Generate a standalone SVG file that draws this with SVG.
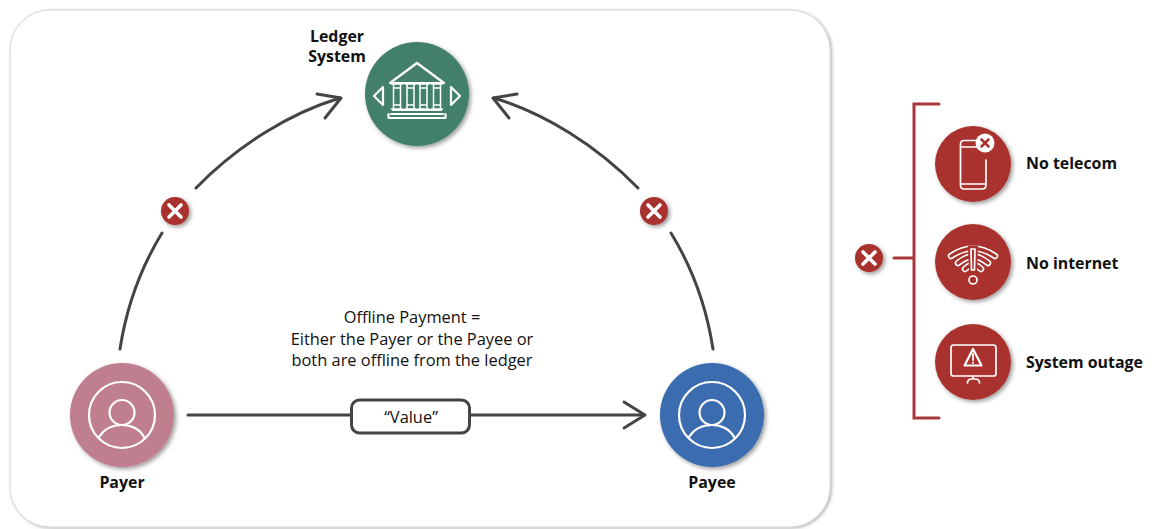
<svg xmlns="http://www.w3.org/2000/svg" width="1160" height="529" viewBox="0 0 1160 529">
<style>
text{font-family:"Open Sans","Noto Sans","Liberation Sans",sans-serif;fill:#111;font-size:16.4px;text-anchor:middle}
.b{font-weight:700;font-size:15.9px}
.l{text-anchor:start}
.c{fill:none;stroke:#444;stroke-width:3;stroke-linecap:round;stroke-linejoin:round}
.w{fill:none;stroke:#fff;stroke-width:2.2;stroke-linecap:round;stroke-linejoin:round}
.t{fill:none;stroke:#fff;stroke-width:1.7;stroke-linecap:round;stroke-linejoin:round}
.x{fill:none;stroke:#fff;stroke-width:3.6;stroke-linecap:round}
.r{fill:#a9322f}
.br{fill:none;stroke:#a9383a;stroke-width:3;stroke-linecap:round;stroke-linejoin:miter}
.ba{fill:none;stroke:#fff;stroke-width:6.500;stroke-linecap:round}
.bi{fill:none;stroke:#a9322f;stroke-width:3.300;stroke-linecap:round}
</style>
<defs>
<filter id="s" x="-20%" y="-20%" width="145%" height="145%"><feDropShadow dx="2" dy="2" stdDeviation="2" flood-color="#000" flood-opacity=".4"/></filter>
<filter id="cs" x="-3%" y="-3%" width="106%" height="106%"><feDropShadow dx="1.5" dy="1" stdDeviation="1.5" flood-color="#000" flood-opacity=".3"/></filter>
<g id="xb"><circle r="14" class="r" filter="url(#s)"/><path class="x" d="M-6-6 6 6M6-6-6 6"/></g>
<g id="person"><circle r="33" class="w"/><circle cy="-2.500" r="12.500" class="w"/><path class="w" d="M-23 22C-18 14-9 10 0 10S18 14 22 22"/></g>
<g id="col"><path d="M-3.500-22V3M3.500-22V3M-5.500-22H5.500M-5.500 3H5.500M-3.500-18H3.500M-3.500-1H3.500" fill="none" stroke="#fff" stroke-width="1.500" stroke-linecap="round"/></g>
</defs>
<rect width="1160" height="529" fill="#fff"/>
<rect id="card" x="10" y="10" width="820" height="517" rx="40" fill="#fff" stroke="#d4d4d4" stroke-width="1" filter="url(#cs)"/>

<g id="connectors">
<path class="c" d="M120 349C126 310 140 269 162 233"/>
<path class="c" d="M196 188C238 145 290 113 340 98"/>
<path class="c" d="M317 94 341 98 325 118"/>
<path class="c" d="M713 349C707 310 693 269 671 233"/>
<path class="c" d="M638 188C596 145 544 113 494 98"/>
<path class="c" d="M517 94 493 98 509 118"/>
<path class="c" d="M188 415H352M470 415H644"/>
<path class="c" d="M624 402 645 415 624 428"/>
</g>

<g id="x-left"><use href="#xb" x="175" y="211"/></g>
<g id="x-right"><use href="#xb" x="654" y="211"/></g>

<g id="ledger">
<circle cx="417" cy="94" r="52" fill="#42806b" filter="url(#s)"/>
<path class="w" d="M390 83 417 63 444 83ZM393 110H441M391 114H443M388.500 118H445.500V114M388.500 118V114M374 96 383 87V105ZM460 96 451 87V105Z"/>
<use href="#col" x="397" y="106"/>
<use href="#col" x="410.500" y="106"/>
<use href="#col" x="423.500" y="106"/>
<use href="#col" x="437" y="106"/>
<text class="b" x="337" y="42">Ledger</text>
<text class="b" x="337" y="62">System</text>
</g>

<g id="payer">
<circle cx="122" cy="415" r="52" fill="#c07f8f" filter="url(#s)"/>
<use href="#person" x="122" y="415"/>
<text class="b" x="122" y="488">Payer</text>
</g>

<g id="payee">
<circle cx="712" cy="415" r="52" fill="#3a6cb0" filter="url(#s)"/>
<use href="#person" x="712" y="415"/>
<text class="b" x="712" y="488">Payee</text>
</g>

<g id="value">
<rect x="351.500" y="400" width="118" height="33" rx="8" fill="#fff" stroke="#444" stroke-width="3"/>
<text x="411" y="423">“Value”</text>
</g>

<g id="caption">
<text x="412" y="323">Offline Payment =</text>
<text x="412" y="345">Either the Payer or the Payee or</text>
<text x="412" y="366">both are offline from the ledger</text>
</g>

<g id="bracket">
<path class="br" d="M939 104H914V418H939M894 258H914"/>
</g>
<g id="x-main"><use href="#xb" x="869" y="258"/></g>

<g id="telecom">
<circle cx="973" cy="164" r="38" class="r" filter="url(#s)"/>
<path class="t" d="M964 140.500H979M960.500 144Q960.500 140.500 964 140.500M986 160V185Q986 189 982 189H964Q960.500 189 960.500 185V144M960.500 147H977M960.500 184H986"/>
<circle cx="985" cy="143" r="9.500" fill="#fff"/>
<path d="M981.500 139.500 988.500 146.500M988.500 139.500 981.500 146.500" fill="none" stroke="#a9322f" stroke-width="2.500" stroke-linecap="round"/>
<text class="b l" x="1026" y="169">No telecom</text>
</g>

<g id="internet">
<circle cx="973" cy="262" r="38" class="r" filter="url(#s)"/>
<path class="ba" d="M951 256Q973 241 995 256"/>
<path class="bi" d="M951 256Q973 241 995 256"/>
<path class="ba" d="M958 263Q973 250 988 263"/>
<path class="bi" d="M958 263Q973 250 988 263"/>
<path class="ba" d="M965 269Q973 261 981 269"/>
<path class="bi" d="M965 269Q973 261 981 269"/>
<path d="M969.500 247H976.500L975.500 271H970.500Z" fill="#a9322f" stroke="#a9322f" stroke-width="3"/>
<path class="t" d="M971 249H975L974.500 270H971.500Z"/>
<circle cx="973" cy="280" r="4" class="t"/>
<text class="b l" x="1026" y="269">No internet</text>
</g>

<g id="outage">
<circle cx="973" cy="362" r="38" class="r" filter="url(#s)"/>
<rect x="951" y="345" width="45" height="31" rx="2.500" class="t"/>
<path class="t" d="M973 376V379M967.500 383Q967.500 379 972 379H975Q979.500 379 979.500 383"/>
<path class="w" d="M973 349 981.500 365.500H964.500Z"/>
<path d="M973 354V360M973 362.500V363" fill="none" stroke="#fff" stroke-width="1.800" stroke-linecap="round"/>
<text class="b l" x="1026" y="368">System outage</text>
</g>
</svg>
